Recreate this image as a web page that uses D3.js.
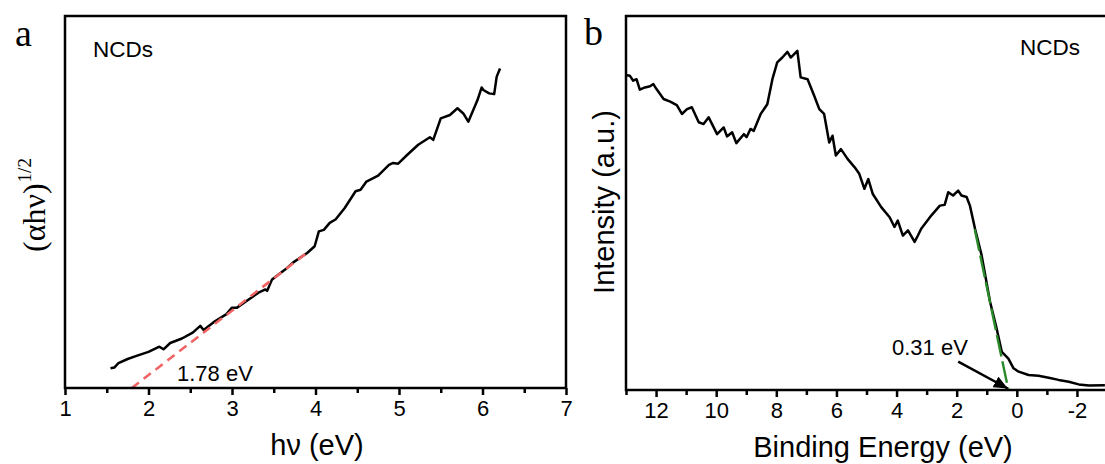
<!DOCTYPE html>
<meta charset="utf-8">
<style>
body { margin: 0; background: #fff; }
.curve { fill: none; stroke: #000; stroke-width: 2.5; stroke-linejoin: round; }
.frame { fill: none; stroke: #000; stroke-width: 2.5; }
.axis path { display: none; }
.axis line { stroke: #000; stroke-width: 2.5; }
.axis text { font-family: "Liberation Sans", Arial, sans-serif; font-size: 22px; fill: #000; }
.lbl { font-family: "Liberation Sans", Arial, sans-serif; fill: #000; }
.serif { font-family: "Liberation Serif", "Times New Roman", serif; fill: #000; }
</style>
<svg width="1105" height="464"></svg>
<script src="https://d3js.org/d3.v7.min.js"></script>
<script>

// panel a: Tauc plot (hv vs (ahv)^1/2, arbitrary units 0-100)
var aX = [1.545, 1.59, 1.64, 1.75, 1.865, 2.0, 2.13, 2.18, 2.26, 2.40, 2.53, 2.62, 2.66, 2.80, 2.93, 3.0, 3.06,
          3.20, 3.33, 3.40, 3.42, 3.48, 3.64, 3.73, 3.9, 3.99, 4.04, 4.10, 4.17, 4.24, 4.35, 4.48, 4.54, 4.61,
          4.75, 4.88, 4.93, 4.99, 5.1, 5.23, 5.37, 5.41, 5.5, 5.61, 5.70, 5.77, 5.83, 5.94, 5.99, 6.01, 6.08,
          6.14, 6.17, 6.21];
var aY = [5.3, 5.5, 6.7, 7.8, 8.7, 9.7, 11.1, 10.4, 12.1, 13.3, 14.9, 16.7, 15.6, 18.0, 19.8, 21.6, 21.6,
          23.8, 25.8, 26.5, 26.1, 29.2, 31.9, 33.7, 36.3, 38.1, 42.1, 42.5, 44.4, 45.3, 48.4, 52.9, 53.3, 55.5,
          57.1, 60.0, 60.5, 60.3, 62.7, 65.4, 67.4, 66.7, 72.5, 73.4, 75.2, 73.8, 71.6, 77.4, 80.8, 80.1, 79.2,
          79.0, 83.7, 85.9];
var aFitX = [1.80, 3.90];
var aFitY = [0, 36.4];

// panel b: valence band spectrum (binding energy vs intensity, a.u. 0-100)
var bX = [13.01, 12.87, 12.76, 12.65, 12.54, 12.37, 12.2, 12.09, 11.98, 11.75, 11.53, 11.31, 11.14, 10.97,
          10.81, 10.58, 10.42, 10.25, 9.97, 9.75, 9.64, 9.47, 9.33, 9.08, 8.99, 8.86, 8.75, 8.52, 8.3, 8.13,
          7.97, 7.8, 7.63, 7.52, 7.3, 7.19, 6.96, 6.74, 6.57, 6.41, 6.24, 6.13, 6.02, 5.85, 5.63, 5.40, 5.24,
          5.07, 4.94, 4.79, 4.51, 4.23, 4.07, 3.96, 3.79, 3.62, 3.40, 3.29, 3.18, 2.84, 2.56, 2.40, 2.28, 2.12,
          1.95, 1.84, 1.67, 1.56, 1.39, 1.17, 0.89, 0.67, 0.50, 0.28, 0.11, -0.06, -0.39, -0.72, -1.06, -1.39,
          -1.73, -2.06, -2.40, -2.93];
var bY = [84.2, 84.0, 82.7, 83.1, 80.3, 80.9, 81.2, 81.8, 80.4, 77.8, 77.1, 76.2, 73.8, 75.1,
          75.6, 71.6, 71.1, 72.9, 68.4, 70.2, 67.8, 68.9, 66.0, 68.4, 67.6, 69.8, 69.3, 73.8, 76.4, 83.1,
          87.6, 88.9, 90.4, 88.9, 90.7, 83.6, 83.1, 78.7, 75.1, 73.8, 66.2, 68.0, 62.7, 64.4, 61.8, 59.6, 57.8,
          53.8, 56.4, 52.4, 48.9, 46.2, 43.6, 45.3, 41.3, 42.7, 39.6, 41.3, 43.1, 46.7, 49.3, 49.5, 52.9, 52.0,
          53.3, 52.0, 51.6, 49.3, 43.1, 36.0, 23.6, 16.4, 10.2, 8.4, 5.8, 4.9, 4.0, 3.8, 3.3, 2.7,
          2.2, 1.5, 1.2, 1.3];
var bFitX = [1.40, 0.28];
var bFitY = [43.0, 0];
var bArrowX = [1.95, 0.30];
var bArrowY = [7.6, 0.4];

var svg = d3.select("svg");

svg.append("defs").append("marker")
    .attr("id", "head")
    .attr("viewBox", "0 0 14 12")
    .attr("refX", 14).attr("refY", 6)
    .attr("markerWidth", 14).attr("markerHeight", 12)
    .attr("markerUnits", "userSpaceOnUse")
    .attr("orient", "auto")
  .append("path")
    .attr("d", "M0,0 L14,6 L0,12 Z")
    .attr("fill", "#000");

function pairs(xs, ys) { return xs.map(function(v, i) { return [v, ys[i]]; }); }
var fmt = function(d) { return String(d); };   // plain hyphen minus like the original

// ---------- panel a ----------
var xa = d3.scaleLinear().domain([1, 7]).range([65, 566]);
var ya = d3.scaleLinear().domain([0, 100]).range([388, 16]);
var ga = svg.append("g");

ga.append("g").attr("class", "axis").attr("transform", "translate(0,388)")
    .call(d3.axisBottom(xa).tickValues(d3.range(1.5, 7, 1)).tickSize(5).tickFormat(""));
ga.append("g").attr("class", "axis").attr("transform", "translate(0,388)")
    .call(d3.axisBottom(xa).tickValues(d3.range(1, 8, 1)).tickSize(7).tickPadding(5).tickFormat(fmt));

ga.append("path").attr("class", "curve")
    .attr("d", d3.line().x(function(d) { return xa(d[0]); }).y(function(d) { return ya(d[1]); })(pairs(aX, aY)));

ga.append("path")
    .attr("d", d3.line().x(function(d) { return xa(d[0]); }).y(function(d) { return ya(d[1]); })(pairs(aFitX, aFitY)))
    .attr("fill", "none").attr("stroke", "#f06464").attr("stroke-width", 2.6)
    .attr("stroke-dasharray", "9,6");

ga.append("rect").attr("class", "frame")
    .attr("x", xa(1)).attr("y", ya(100))
    .attr("width", xa(7) - xa(1)).attr("height", ya(0) - ya(100));

ga.append("text").attr("class", "serif").attr("x", 15).attr("y", 46).attr("font-size", 38).text("a");
ga.append("text").attr("class", "lbl").attr("x", 93).attr("y", 57).attr("font-size", 22.5).text("NCDs");
ga.append("text").attr("class", "lbl").attr("x", 177).attr("y", 381).attr("font-size", 22).text("1.78 eV");
ga.append("text").attr("class", "lbl").attr("x", 317).attr("y", 455).attr("font-size", 29)
    .attr("text-anchor", "middle").text("h\u03bd (eV)");

var yla = ga.append("text").attr("class", "serif")
    .attr("transform", "translate(45,205) rotate(-90)")
    .attr("text-anchor", "middle").attr("font-size", 32);
yla.append("tspan").text("(\u03b1h\u03bd)");
yla.append("tspan").attr("font-size", 19).attr("dy", -14).attr("dx", 1).text("1/2");

// ---------- panel b ----------
var xb = d3.scaleLinear().domain([13, -3]).range([626, 1107]);
var yb = d3.scaleLinear().domain([0, 100]).range([390, 16]);
var gb = svg.append("g");

gb.append("g").attr("class", "axis").attr("transform", "translate(0,390)")
    .call(d3.axisBottom(xb).tickValues(d3.range(13, -3, -2)).tickSize(5).tickFormat(""));
gb.append("g").attr("class", "axis").attr("transform", "translate(0,390)")
    .call(d3.axisBottom(xb).tickValues(d3.range(12, -3, -2)).tickSize(7).tickPadding(5).tickFormat(fmt));

gb.append("path").attr("class", "curve")
    .attr("d", d3.line().x(function(d) { return xb(d[0]); }).y(function(d) { return yb(d[1]); })(pairs(bX, bY)));

gb.append("path")
    .attr("d", d3.line().x(function(d) { return xb(d[0]); }).y(function(d) { return yb(d[1]); })(pairs(bFitX, bFitY)))
    .attr("fill", "none").attr("stroke", "#2a8a2a").attr("stroke-width", 2.4)
    .attr("stroke-dasharray", "22,5");

gb.append("line")
    .attr("x1", xb(bArrowX[0])).attr("y1", yb(bArrowY[0]))
    .attr("x2", xb(bArrowX[1])).attr("y2", yb(bArrowY[1]))
    .attr("stroke", "#000").attr("stroke-width", 2.5)
    .attr("marker-end", "url(#head)");

gb.append("rect").attr("class", "frame")
    .attr("x", xb(13)).attr("y", yb(100))
    .attr("width", xb(-3) - xb(13)).attr("height", yb(0) - yb(100));

gb.append("text").attr("class", "serif").attr("x", 584).attr("y", 45).attr("font-size", 38).text("b");
gb.append("text").attr("class", "lbl").attr("x", 1020).attr("y", 55).attr("font-size", 22.5).text("NCDs");
gb.append("text").attr("class", "lbl").attr("x", 892).attr("y", 355).attr("font-size", 22).text("0.31 eV");
gb.append("text").attr("class", "lbl").attr("x", 883).attr("y", 457).attr("font-size", 29)
    .attr("text-anchor", "middle").text("Binding Energy (eV)");
gb.append("text").attr("class", "lbl")
    .attr("transform", "translate(614,202) rotate(-90)")
    .attr("text-anchor", "middle").attr("font-size", 29).text("Intensity (a.u.)");

</script>
